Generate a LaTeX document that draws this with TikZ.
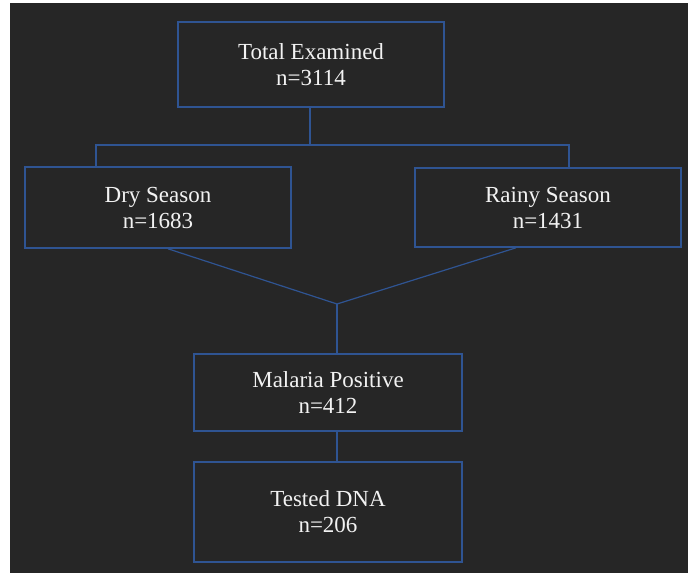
\documentclass[tikz,border=0pt]{standalone}
\usepackage{fontspec}
\setmainfont{Liberation Serif}
\definecolor{bgdark}{RGB}{38,38,38}
\definecolor{boxblue}{RGB}{47,84,146}
\definecolor{txtwhite}{RGB}{242,242,242}
\begin{document}
\begin{tikzpicture}[x=1pt,y=-1pt,
  stagebox/.style={draw=boxblue, line width=1.6pt, rectangle, minimum width=266pt,
    inner sep=0pt, align=center, text=txtwhite, font=\fontsize{23}{26}\selectfont},
  link/.style={draw=boxblue, line width=1.2pt}]
\useasboundingbox (0,0) rectangle (688,573);
\fill[bgdark] (10,3) rectangle (688,573);
% boxes
\node[stagebox, minimum height=85pt] (total) at (311,64.5) {Total Examined\\n=3114};
\node[stagebox, minimum height=81pt] (dry) at (158,207.5) {Dry Season\\n=1683};
\node[stagebox, minimum height=79pt] (rainy) at (548,207.5) {Rainy Season\\n=1431};
\node[stagebox, minimum height=77pt, minimum width=268pt] (malaria) at (328,392.5) {Malaria Positive\\n=412};
\node[stagebox, minimum height=100pt, minimum width=268pt] (dna) at (328,512) {Tested DNA\\n=206};
% junctions
\coordinate (splitL) at (96,145);
\coordinate (splitR) at (569,145);
\coordinate (merge) at (337,304);
% connectors
\draw[link] (total.south -| 310,0) -- (310,145);
\draw[link] (dry.north -| splitL) -- (splitL) -- (splitR) -- (rainy.north -| splitR);
\draw[link] ([xshift=10pt]dry.south) -- (merge) -- ([xshift=-32pt]rainy.south);
\draw[link] (merge) -- (malaria.north -| merge);
\draw[link] (malaria.south -| merge) -- (dna.north -| merge);
\end{tikzpicture}
\end{document}
